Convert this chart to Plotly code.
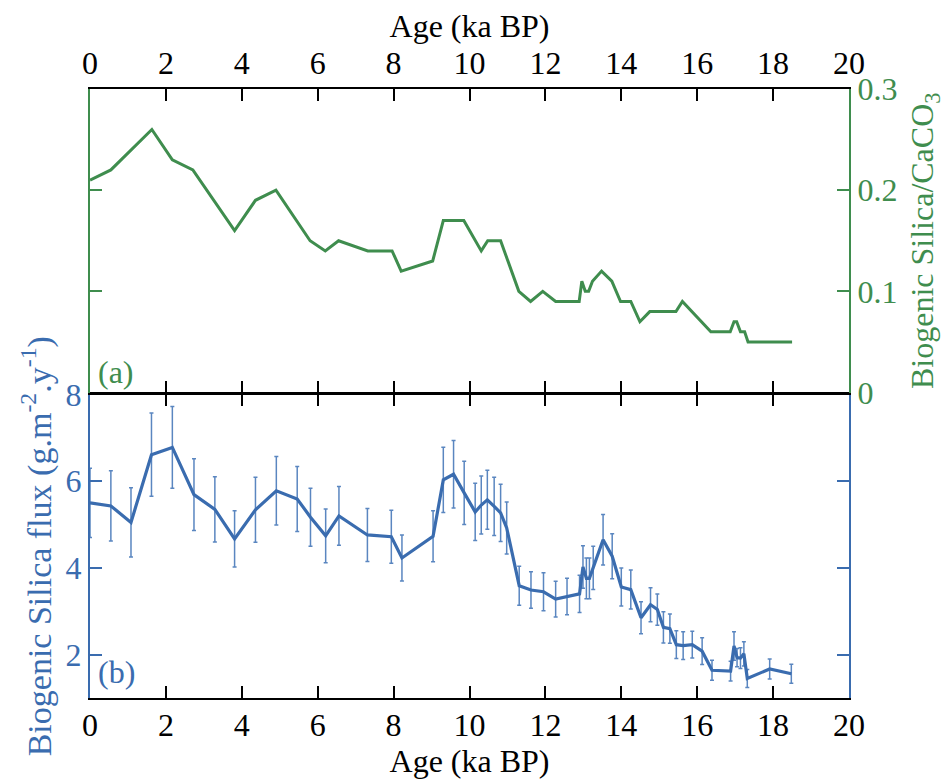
import plotly.graph_objects as go

# ---- Panel (a): Biogenic Silica / CaCO3 ----
age_ratio = [0.0, 0.55, 1.63, 2.17, 2.71, 3.81, 4.36, 4.90, 5.80, 6.20, 6.55, 7.32, 7.96,
             8.20, 9.03, 9.31, 9.85, 10.31, 10.48, 10.82, 11.30, 11.61, 11.93, 12.27, 12.89,
             12.96, 13.05, 13.14, 13.24, 13.48, 13.75, 13.98, 14.25, 14.49, 14.75, 15.44,
             15.61, 16.36, 16.87, 16.97, 17.04, 17.14, 17.25, 17.34, 18.50]
ratio = [0.21, 0.22, 0.26, 0.23, 0.22, 0.16, 0.19, 0.20, 0.15, 0.14, 0.15, 0.14, 0.14,
         0.12, 0.13, 0.17, 0.17, 0.14, 0.15, 0.15, 0.10, 0.09, 0.10, 0.09, 0.09,
         0.11, 0.10, 0.10, 0.11, 0.12, 0.11, 0.09, 0.09, 0.07, 0.08, 0.08,
         0.09, 0.06, 0.06, 0.07, 0.07, 0.06, 0.06, 0.05, 0.05]

# ---- Panel (b): Biogenic Silica flux ----
age_flux = [0.0, 0.55, 1.08, 1.62, 2.17, 2.74, 3.29, 3.81, 4.36, 4.91, 5.46, 5.81, 6.21,
            6.56, 7.31, 7.94, 8.22, 9.04, 9.31, 9.58, 9.86, 10.15, 10.31, 10.47, 10.65,
            10.82, 10.98, 11.31, 11.62, 11.95, 12.27, 12.57, 12.90, 12.99, 13.08, 13.16,
            13.26, 13.52, 13.76, 14.00, 14.25, 14.52, 14.77, 14.95, 15.11, 15.28, 15.45,
            15.63, 15.87, 16.13, 16.39, 16.88, 16.97, 17.05, 17.14, 17.23, 17.32, 17.91, 18.48]
flux = [5.50, 5.43, 5.05, 6.61, 6.78, 5.69, 5.35, 4.67, 5.34, 5.78, 5.59, 5.17, 4.74,
        5.20, 4.76, 4.72, 4.23, 4.73, 6.03, 6.16, 5.73, 5.29, 5.45, 5.57, 5.42,
        5.27, 4.92, 3.59, 3.49, 3.45, 3.28, 3.34, 3.40, 4.02, 3.76, 3.76,
        4.00, 4.65, 4.27, 3.56, 3.50, 2.85, 3.15, 3.04, 2.63, 2.60, 2.23,
        2.21, 2.23, 2.08, 1.64, 1.62, 2.20, 1.93, 1.92, 2.02, 1.45, 1.67, 1.56]
flux_err = [0.80, 0.81, 0.80, 0.96, 0.94, 0.83, 0.75, 0.65, 0.75, 0.79, 0.75, 0.67, 0.62,
            0.68, 0.61, 0.61, 0.53, 0.59, 0.75, 0.78, 0.73, 0.66, 0.67, 0.68, 0.67,
            0.66, 0.60, 0.45, 0.42, 0.44, 0.41, 0.42, 0.43, 0.49, 0.47, 0.47,
            0.50, 0.58, 0.52, 0.44, 0.45, 0.37, 0.39, 0.36, 0.36, 0.34, 0.32,
            0.32, 0.31, 0.31, 0.23, 0.23, 0.33, 0.21, 0.24, 0.28, 0.21, 0.23, 0.22]

GREEN = "#3f8d4e"
BLUE = "#3a6caf"
ERRBLUE = "#5a86c0"
FONT = "Liberation Serif"
FS = 32

fig = go.Figure()
fig.add_trace(go.Scatter(x=age_ratio, y=ratio, mode="lines",
                         line=dict(color=GREEN, width=3),
                         xaxis="x2", yaxis="y2", showlegend=False))
fig.add_trace(go.Scatter(x=age_flux, y=flux, mode="lines",
                         line=dict(color=BLUE, width=3.2),
                         error_y=dict(type="data", array=flux_err, visible=True,
                                      color=ERRBLUE, thickness=1.5, width=2),
                         xaxis="x", yaxis="y", showlegend=False))

xcommon = dict(range=[0, 20], dtick=2, tick0=0, ticks="inside", ticklen=12, tickwidth=2,
               tickcolor="black", linecolor="black", linewidth=2, showline=True,
               mirror="ticks", showgrid=False, zeroline=False, automargin=False,
               tickfont=dict(family=FONT, size=FS, color="black"))

fig.update_layout(
    width=949, height=783,
    paper_bgcolor="white", plot_bgcolor="white",
    margin=dict(l=82, r=108, t=81, b=93),
    font=dict(family=FONT, size=FS, color="black"),
    xaxis=dict(**xcommon, anchor="y", domain=[0, 1], ticklabelstandoff=-2,
               title=dict(text="Age (ka BP)", font=dict(family=FONT, size=FS), standoff=2)),
    xaxis2=dict(**xcommon, anchor="y2", side="top", domain=[0, 1],
                title=dict(text="Age (ka BP)", font=dict(family=FONT, size=FS), standoff=2)),
    yaxis=dict(domain=[0, 0.4984], range=[1, 8], dtick=2, tick0=0, side="left",
               ticks="inside", ticklen=12, tickwidth=2, tickcolor=BLUE,
               linecolor=BLUE, linewidth=2, showline=True, mirror="ticks",
               showgrid=False, zeroline=False, automargin=False,
               tickfont=dict(family=FONT, size=FS, color=BLUE),
               title=dict(text="Biogenic Silica flux (g.m<sup>-2</sup>.y<sup>-1</sup>)",
                          font=dict(family=FONT, size=34, color=BLUE), standoff=4)),
    yaxis2=dict(domain=[0.5016, 1], range=[0, 0.3], dtick=0.1, tick0=0, side="right",
                anchor="x2",
                ticks="inside", ticklen=12, tickwidth=2, tickcolor=GREEN,
                linecolor=GREEN, linewidth=2, showline=True, mirror="ticks",
                showgrid=False, zeroline=False, automargin=False,
                tickfont=dict(family=FONT, size=FS, color=GREEN),
                title=dict(text="Biogenic Silica/CaCO<sub>3</sub>",
                           font=dict(family=FONT, size=FS, color=GREEN), standoff=14)),
    annotations=[
        dict(text="(a)", x=0.008, y=0.502, xref="paper", yref="paper",
             xanchor="left", yanchor="bottom", showarrow=False,
             font=dict(family=FONT, size=FS, color=GREEN)),
        dict(text="(b)", x=0.008, y=0.01, xref="paper", yref="paper",
             xanchor="left", yanchor="bottom", showarrow=False,
             font=dict(family=FONT, size=FS, color=BLUE)),
    ],
)

fig.write_html("out.html")
